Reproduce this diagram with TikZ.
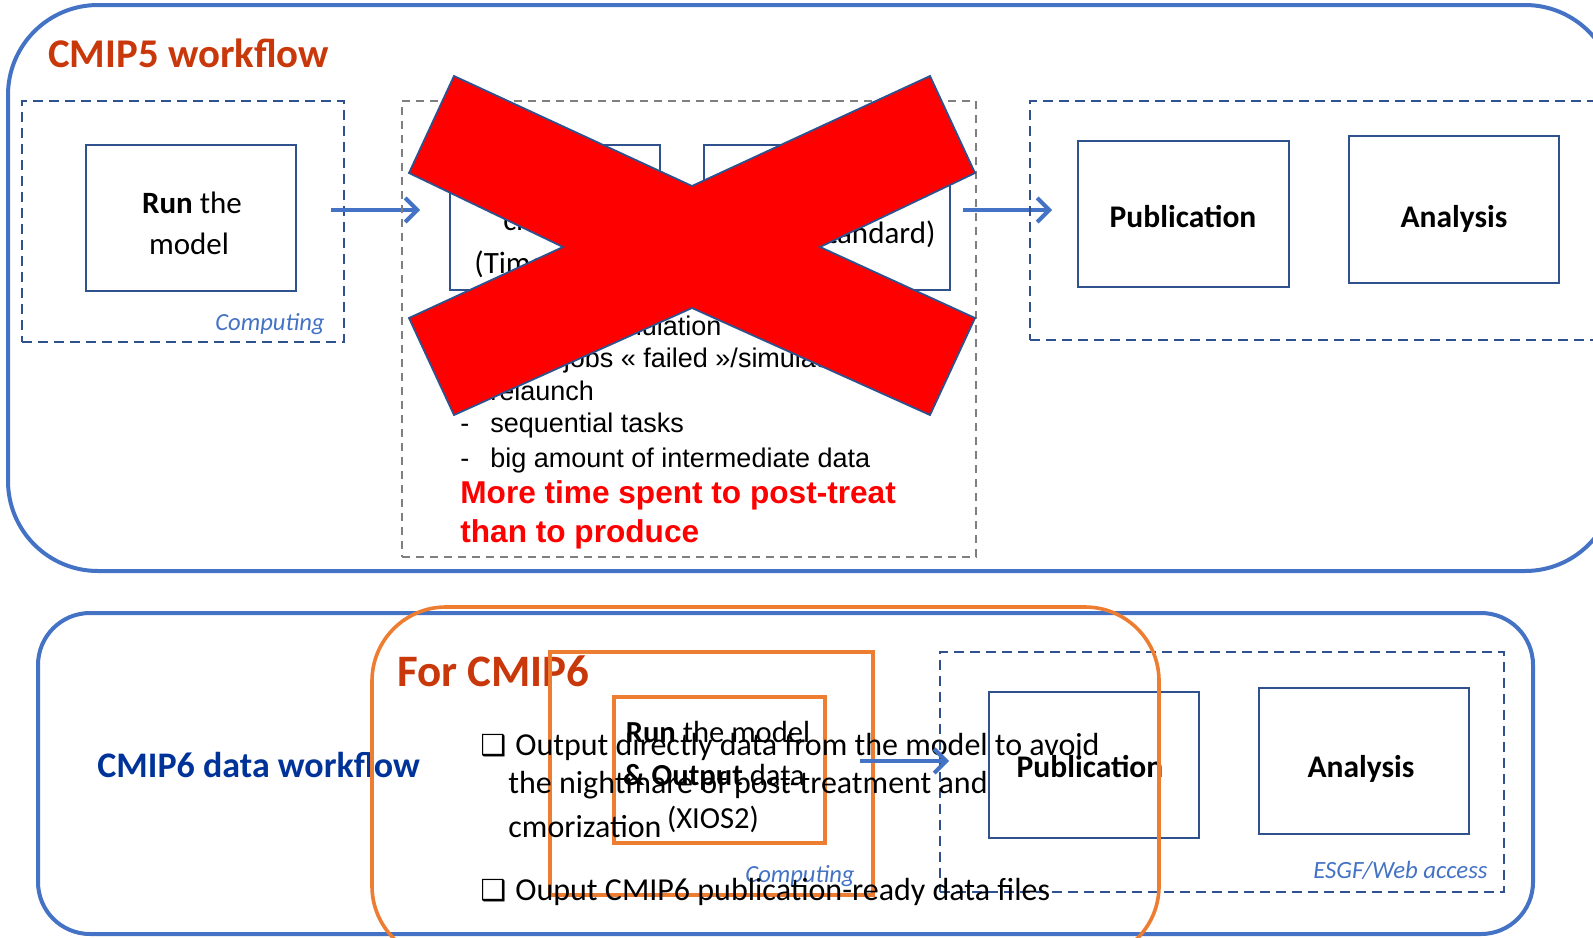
\documentclass[tikz,border=0pt]{standalone}
\usepackage{fontspec}
\setmainfont{Carlito}
\newfontfamily\arialfont{Liberation Sans}
\newfontfamily\dejavufont{DejaVu Sans}
\usetikzlibrary{arrows.meta,fit}
\definecolor{wfblue}{HTML}{4472C4}
\definecolor{boxblue}{HTML}{2F528F}
\definecolor{wforange}{HTML}{ED7D31}
\definecolor{titlered}{RGB}{200,56,10}
\definecolor{navy}{RGB}{0,51,153}
\definecolor{dashgray}{HTML}{7F7F7F}
\newcommand{\fs}[1]{\fontsize{#1}{#1}\selectfont}
\newcommand{\chkbox}{{\dejavufont\bfseries\char"2751}}
\tikzset{
  frame/.style={draw=wfblue,line width=2pt},
  oframe/.style={draw=wforange,line width=1.8pt},
  zone/.style={draw=boxblue,line width=1.2pt,dash pattern=on 5pt off 3pt,inner sep=0pt},
  grayzone/.style={draw=dashgray,line width=1pt,dash pattern=on 4pt off 3pt,inner sep=0pt},
  procbox/.style={draw=boxblue,line width=1.3pt,inner sep=0pt},
  obox/.style={draw=wforange,line width=1.7pt,inner sep=0pt},
  txt/.style={inner sep=0pt},
  flow/.style={draw=wfblue,line width=2pt,-{Straight Barb[length=6pt,width=12pt]}},
  crossx/.style={fill=red,draw=boxblue,line width=0.9pt,line join=miter}
}
\begin{document}
\begin{tikzpicture}[x=0.5pt,y=-0.5pt]
  \useasboundingbox (0,0) rectangle (1593,937);
  \clip (0,0) rectangle (1593,937);
  % CMIP5 workflow
  \draw[frame,rounded corners=45pt] (8,5) rectangle (1615,571);
  \node[txt,anchor=base west,font=\fs{20.4}\bfseries,text=titlered] (t5) at (48,67) {CMIP5 workflow};
  \node[zone,fit={(22,101) (344,342)}] (comp) {};
  \node[procbox,fit={(86,145) (296,291)}] (run) {};
  \node[txt,anchor=base,font=\fs{15.5}] (runa) at (192,213) {\textbf{Run} the};
  \node[txt,anchor=base,font=\fs{15.5}] (runb) at (189,254) {model};
  \node[txt,anchor=base east,font=\fs{12.3}\itshape,text=wfblue] (comp5) at (325,330) {Computing};
  \coordinate (a1s) at (331,210); \coordinate (a1e) at (420,210);
  \draw[flow] (a1s) -- (a1e);
  % post-treatment
  \node[grayzone,fit={(402,101) (976,557)}] (pt) {};
  \node[procbox,fit={(450,145) (660,290)}] (ts) {};
  \node[procbox,fit={(704,145) (950,290)}] (cmor) {};
  \node[txt,anchor=base,font=\fs{15.5}] (tsa) at (555,187) {Post-treatment};
  \node[txt,anchor=base,font=\fs{15.5}] (tsb) at (555,230) {creation};
  \node[txt,anchor=base,font=\fs{15.5}] (tsc) at (555,273) {(Time series)};
  \node[txt,anchor=base,font=\fs{15.5}] (cma) at (827,200) {CMORization};
  \node[txt,anchor=base,font=\fs{15.5}] (cmb) at (827,243) {(CMOR standard)};
  \foreach \y in {335,367,400,432,467}
    \node[txt,anchor=base west,font=\arialfont\fs{13.5}] (d\y) at (460,\y) {-};
  \node[txt,anchor=base west,font=\arialfont\fs{13.5}] (la) at (490,335) {100 jobs/simulation};
  \node[txt,anchor=base west,font=\arialfont\fs{13.5}] (lb) at (490,367) {many jobs « failed »/simulation};
  \node[txt,anchor=base west,font=\arialfont\fs{13.5}] (lc) at (490,400) {relaunch};
  \node[txt,anchor=base west,font=\arialfont\fs{13.5}] (ld) at (490,432) {sequential tasks};
  \node[txt,anchor=base west,font=\arialfont\fs{13.5}] (le) at (490,467) {big amount of intermediate data};
  \node[txt,anchor=base west,font=\arialfont\fs{15.8}\bfseries,text=red] (ra) at (460,503) {More time spent to post-treat};
  \node[txt,anchor=base west,font=\arialfont\fs{15.8}\bfseries,text=red] (rb) at (460,542) {than to produce};
  \draw[crossx] (454,76) -- (692,186) -- (930,76) -- (975,173) -- (820,247) -- (975,318)
    -- (930,415) -- (692,308) -- (454,415) -- (409,318) -- (563,247) -- (409,173) -- cycle;
  \coordinate (a2s) at (963,210); \coordinate (a2e) at (1052,210);
  \draw[flow] (a2s) -- (a2e);
  % publication
  \node[zone,fit={(1030,101) (1650,340)}] (esgf5) {};
  \node[procbox,fit={(1078,141) (1289,287)}] (pub5) {};
  \node[procbox,fit={(1349,136) (1559,283)}] (ana5) {};
  \node[txt,anchor=base,font=\fs{15.75}\bfseries] (pub5t) at (1183,227) {Publication};
  \node[txt,anchor=base,font=\fs{15.75}\bfseries] (ana5t) at (1454,227) {Analysis};
  % CMIP6 data workflow
  \draw[frame,rounded corners=26pt] (38,613) rectangle (1533,934);
  \node[txt,anchor=base west,font=\fs{18}\bfseries,text=navy] (t6) at (97,777) {CMIP6 data workflow};
  \node[zone,fit={(940,652) (1504,892)}] (esgf6) {};
  \node[procbox,fit={(989,692) (1199,838)}] (pub6) {};
  \node[procbox,fit={(1259,688) (1469,834)}] (ana6) {};
  \node[txt,anchor=base,font=\fs{15.75}\bfseries] (pub6t) at (1090,777) {Publication};
  \node[txt,anchor=base,font=\fs{15.75}\bfseries] (ana6t) at (1361,777) {Analysis};
  \node[txt,anchor=base east,font=\fs{12.4}\itshape,text=wfblue] (web) at (1488,878) {ESGF/Web access};
  \draw[oframe,rounded corners=37pt] (372,607) rectangle (1159,960);
  \node[txt,anchor=base west,font=\fs{22.5}\bfseries,text=titlered] (f6) at (397,686) {For CMIP6};
  \node[obox,fit={(550,652) (873,895)}] (comp6) {};
  \node[obox,fit={(614,697) (825,843)}] (xios) {};
  \node[txt,anchor=base,font=\fs{15.3}] (xa) at (718,742) {\textbf{Run} the model};
  \node[txt,anchor=base,font=\fs{15.3}] (xb) at (714,785) {\textbf{\& Output} data};
  \node[txt,anchor=base,font=\fs{15.3}] (xc) at (713,828) {(XIOS2)};
  \node[txt,anchor=base west,font=\fs{12.3}\itshape,text=wfblue] (c6) at (745,882) {Computing};
  \node[txt,anchor=base west,font=\fs{14.5}] (ba) at (480,755) {\chkbox};
  \node[txt,anchor=base west,font=\fs{16}] (bat) at (515,755) {Output directly data from the model to avoid};
  \node[txt,anchor=base west,font=\fs{16}] (bbt) at (508,793) {the nightmare of post-treatment and};
  \node[txt,anchor=base west,font=\fs{16}] (bct) at (508,837) {cmorization};
  \node[txt,anchor=base west,font=\fs{14.5}] (bb) at (480,900) {\chkbox};
  \node[txt,anchor=base west,font=\fs{16}] (bdt) at (515,900) {Ouput CMIP6 publication-ready data files};
  \coordinate (a3s) at (860,761); \coordinate (a3e) at (949,761);
  \draw[flow] (a3s) -- (a3e);
\end{tikzpicture}
\end{document}
